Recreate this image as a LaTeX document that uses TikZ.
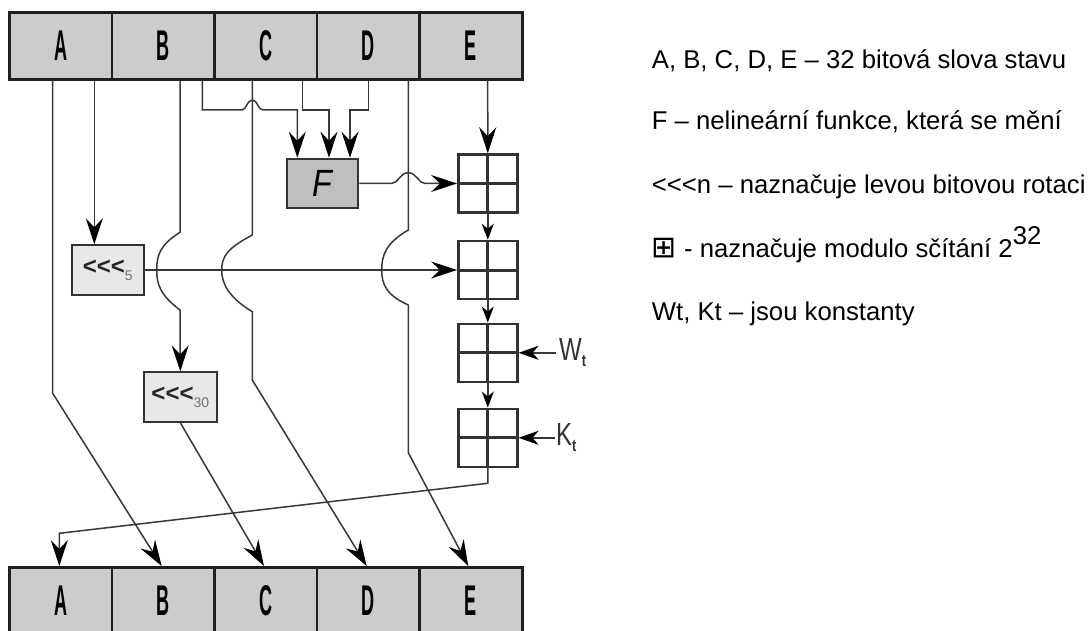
\documentclass[tikz,border=0pt]{standalone}
\usepackage{fontspec}
\setmainfont{Liberation Sans}
\newfontfamily\cellfont[FakeStretch=0.42]{Liberation Sans}
\newfontfamily\ffont[FakeStretch=0.85]{Liberation Sans}
\newfontfamily\wkfont[FakeStretch=0.75]{Liberation Sans}
\newfontfamily\symfont{DejaVu Sans}
\usetikzlibrary{arrows.meta,calc}
\newcommand{\lll}{<\kern0pt<\kern0pt<}
\tikzset{
  cell/.style={draw=black!88, line width=2.5pt, fill=black!20, minimum width=103pt,
    minimum height=66.6pt, inner sep=0pt, font=\cellfont\bfseries\fontsize{43}{43}\selectfont},
  rotbox/.style={draw=black!80, line width=2pt, fill=black!9, minimum width=72.5pt,
    minimum height=49.4pt, inner sep=0pt, font=\bfseries\fontsize{24}{24}\selectfont, text=black!85},
  funbox/.style={draw=black!80, line width=2pt, fill=black!25, minimum width=71.6pt,
    minimum height=49.6pt, inner sep=0pt},
  adder/.style={draw=black!80, line width=2.5pt, minimum width=59pt, minimum height=58pt,
    inner sep=0pt, path picture={\draw[black!80, line width=3pt]
      (path picture bounding box.north) -- (path picture bounding box.south)
      (path picture bounding box.west) -- (path picture bounding box.east);}},
  conn/.style={draw=black!78, line width=1.5pt},
  big/.style={-{Stealth[length=26pt,width=17pt,inset=9pt,color=black]}},
  small/.style={-{Stealth[length=16pt,width=12pt,inset=5pt,color=black]}},
  mid/.style={-{Stealth[length=20pt,width=14pt,inset=6pt,color=black]}},
  legend/.style={anchor=base west, inner sep=0pt, font=\fontsize{25.7}{30}\selectfont},
  wk/.style={anchor=base west, inner sep=0pt, text=black!80, font=\wkfont\fontsize{32}{32}\selectfont},
}
\begin{document}
\begin{tikzpicture}[x=1pt,y=-1pt]
\useasboundingbox (0,0) rectangle (1092,631);
\fill[white] (0,0) rectangle (1092,631);
\clip (0,0) rectangle (1092,631);

% top state words
\node[cell] (tA) at (60.8,46) {A};
\node[cell] (tB) at (163.3,46) {B};
\node[cell] (tC) at (265.8,46) {C};
\node[cell] (tD) at (368.3,46) {D};
\node[cell] (tE) at (470.8,46) {E};
% bottom state words
\node[cell] (bA) at (60.8,600.6) {A};
\node[cell] (bB) at (163.3,600.6) {B};
\node[cell] (bC) at (265.8,600.6) {C};
\node[cell] (bD) at (368.3,600.6) {D};
\node[cell] (bE) at (470.8,600.6) {E};

% function and rotations
\node[funbox] (F) at (322.5,183.5) {\ffont\itshape\fontsize{38}{38}\selectfont F};
\node[rotbox] (rot5) at (107.8,270) {\lll\raisebox{-6pt}{\mdseries\fontsize{14}{14}\selectfont\color{black!55}5}};
\node[rotbox] (rot30) at (180.3,397) {\lll\raisebox{-6pt}{\mdseries\fontsize{14}{14}\selectfont\color{black!55}30}};

% adders
\node[adder] (add1) at (487.8,183.5) {};
\node[adder] (add2) at (487.8,270) {};
\node[adder] (add3) at (487.8,352.8) {};
\node[adder] (add4) at (487.8,437.8) {};

% constants
\node[wk] (Wt) at (559,360) {W\raisebox{-6pt}{\fontsize{17}{17}\selectfont\bfseries t}};
\node[wk] (Kt) at (556,445) {K\raisebox{-6pt}{\fontsize{17}{17}\selectfont\bfseries t}};

% connectors
% A -> B (bottom)
\draw[conn,big] ([xshift=-8.1pt]tA.south) -- (52.7,393.3) -- ([xshift=-1.6pt]bB.north);
% A -> <<<5
\draw[conn,big] ([xshift=33.5pt]tA.south) -- ([xshift=33.5pt]tA.south |- rot5.north);
% B -> <<<30 (with jump)
\draw[conn,big] ([xshift=16.7pt]tB.south) -- (180,232.3)
  .. controls (160,245) and (156.7,255) .. (156.7,270)
  .. controls (156.7,284) and (160,295) .. (180,310) -- (rot30.north);
% <<<30 -> C
\draw[conn,big] (rot30.south) -- ([xshift=-1.8pt]bC.north);
% B -> F
\draw[conn,big] ([xshift=39pt]tB.south) -- (202.3,110) -- (241.7,110)
  .. controls (246.5,110) and (247,100) .. (252.3,100)
  .. controls (257.6,100) and (258,110) .. (263,110)
  -- (297.3,110) -- ([xshift=-25.2pt]F.north);
% C -> D (bottom, with jump)
\draw[conn,big] ([xshift=-13.5pt]tC.south) -- (252.3,235)
  .. controls (228,248) and (221.7,256) .. (221.7,270)
  .. controls (221.7,283) and (228,297) .. (252.3,311.7)
  -- (252.3,380) -- ([xshift=-1.6pt]bD.north);
% C -> F
\draw[conn,big] ([xshift=36.9pt]tC.south) -- (302.7,110) -- (329,110) -- ([xshift=6.5pt]F.north);
% D -> F
\draw[conn,big] ([xshift=0.4pt]tD.south) -- (368.7,110) -- (350,110) -- ([xshift=27.5pt]F.north);
% D -> E (bottom, with jump)
\draw[conn,big] ([xshift=40pt]tD.south) -- (408.3,230)
  .. controls (386,243) and (381.7,255) .. (381.7,270)
  .. controls (381.7,284) and (386,295) .. (408.3,305)
  -- (408.3,452.7) -- ([xshift=-2.5pt]bE.north);
% E -> adder 1
\draw[conn,big] ([xshift=16.9pt]tE.south) -- (add1.north);
% F -> adder 1 (with jump)
\draw[conn,big] (F.east) -- (391.7,183.5)
  .. controls (398,183.5) and (400,172.7) .. (408.3,172.7)
  .. controls (416.6,172.7) and (418.6,183.5) .. (425,183.5) -- (add1.west);
% <<<5 -> adder 2
\draw[conn,big] (rot5.east) -- (rot5.east -| add2.west);
% adder chain
\draw[conn,small] (add1.south) -- (add2.north);
\draw[conn,small] (add2.south) -- (add3.north);
\draw[conn,small] (add3.south) -- (add4.north);
% constants
\draw[conn,mid] ([xshift=-3pt]add3.east -| Wt.west) -- (add3.east);
\draw[conn,mid] ([xshift=-1pt]add4.east -| Kt.west) -- (add4.east);
% adder 4 -> A (bottom)
\draw[conn,big] (add4.south) -- (487.8,483.3) -- (59.3,533.3) -- ([xshift=-1.5pt]bA.north);

% legend
\node[legend] (l1) at (651.7,68.3) {A, B, C, D, E – 32 bitová slova stavu};
\node[legend] (l2) at (651.7,130) {F – nelineární funkce, která se mění};
\node[legend] (l3) at (651.7,193.3) {\lll n – naznačuje levou bitovou rotaci};
\node[legend] (l4) at (651.7,257) {{\symfont\fontsize{30}{30}\selectfont ⊞} - naznačuje modulo sčítání 2\raisebox{13pt}{32}};
\node[legend] (l5) at (651.7,320) {Wt, Kt – jsou konstanty};
\end{tikzpicture}
\end{document}
